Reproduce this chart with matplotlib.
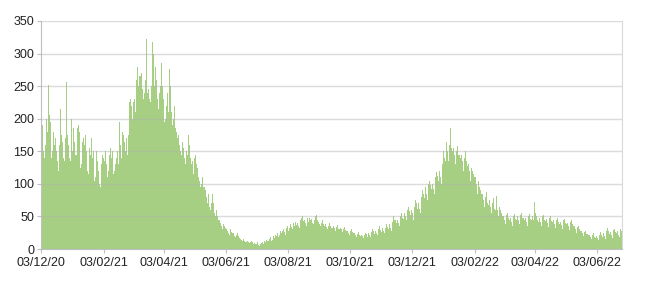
import numpy as np
import matplotlib
matplotlib.use("Agg")
import matplotlib.pyplot as plt
import matplotlib.dates as mdates
import datetime as dt

start_date = "2020-12-03"
daily_values = [
    215, 190, 150, 140, 160, 200, 180,
    251, 205, 195, 140, 150, 180, 160,
    170, 150, 135, 120, 160, 215, 175,
    165, 140, 135, 170, 256, 175, 160,
    140, 135, 200, 150, 185, 165, 145,
    185, 190, 180, 125, 130, 165, 170,
    160, 175, 150, 120, 115, 155, 145,
    170, 140, 150, 105, 110, 150, 135,
    120, 100, 95, 130, 145, 140, 135,
    150, 130, 110, 120, 145, 155, 140,
    150, 115, 120, 130, 140, 150, 130,
    195, 160, 140, 180, 175, 165, 150,
    170, 145, 175, 225, 230, 220, 200,
    225, 230, 210, 260, 280, 250, 265,
    270, 245, 230, 240, 260, 323, 240,
    245, 230, 225, 250, 318, 300, 250,
    280, 260, 230, 215, 240, 250, 285,
    250, 230, 195, 200, 220, 240, 210,
    277, 250, 210, 190, 200, 220, 185,
    180, 170, 175, 160, 150, 145, 165,
    155, 140, 130, 150, 145, 175, 160,
    140, 130, 135, 115, 140, 145, 130,
    125, 110, 105, 95, 100, 110, 95,
    90, 80, 70, 85, 65, 60, 70,
    85, 70, 55, 50, 60, 50, 45,
    45, 40, 35, 30, 38, 35, 32,
    30, 28, 25, 22, 30, 26, 24,
    25, 20, 18, 22, 24, 20, 17,
    15, 14, 12, 16, 13, 11, 10,
    12, 10, 9, 11, 13, 10, 8,
    9, 7, 8, 10, 6, 5, 8,
    9, 11, 8, 12, 10, 14, 13,
    15, 18, 12, 14, 20, 17, 22,
    20, 25, 18, 22, 27, 24, 28,
    30, 26, 22, 32, 35, 28, 33,
    38, 34, 30, 40, 36, 42, 37,
    40, 35, 32, 45, 48, 50, 43,
    45, 40, 36, 47, 42, 48, 44,
    46, 40, 38, 45, 50, 52, 44,
    42, 38, 35, 40, 44, 38, 36,
    38, 34, 30, 36, 40, 35, 33,
    35, 32, 28, 34, 37, 31, 30,
    33, 30, 26, 30, 34, 29, 28,
    28, 25, 22, 27, 30, 26, 24,
    25, 22, 18, 23, 26, 21, 20,
    22, 20, 17, 21, 25, 23, 19,
    24, 21, 19, 26, 30, 27, 23,
    28, 24, 21, 30, 35, 29, 26,
    32, 27, 24, 33, 38, 34, 30,
    38, 33, 28, 42, 50, 44, 40,
    45, 40, 35, 50, 55, 48, 46,
    55, 50, 45, 60, 65, 58, 52,
    60, 55, 45, 65, 75, 70, 62,
    70, 62, 55, 80, 90, 85, 78,
    95, 85, 75, 100, 105, 98, 92,
    100, 92, 85, 110, 118, 112, 105,
    120, 110, 100, 130, 150, 140, 135,
    165, 150, 135, 160, 185, 155, 150,
    155, 145, 130, 150, 158, 145, 140,
    145, 135, 120, 140, 150, 135, 128,
    130, 120, 105, 125, 120, 115, 110,
    110, 100, 85, 105, 95, 90, 85,
    85, 75, 65, 80, 88, 70, 68,
    75, 65, 55, 70, 78, 62, 60,
    82, 60, 50, 65, 60, 55, 50,
    50, 45, 38, 52, 55, 48, 45,
    48, 42, 36, 50, 54, 46, 44,
    50, 44, 38, 52, 55, 47, 45,
    48, 42, 36, 50, 53, 46, 44,
    50, 44, 72, 55, 50, 45, 42,
    48, 42, 36, 50, 52, 45, 43,
    46, 40, 34, 47, 50, 43, 41,
    44, 38, 32, 45, 47, 41, 39,
    42, 37, 31, 44, 46, 40, 38,
    40, 35, 29, 42, 45, 38, 36,
    35, 30, 25, 34, 36, 30, 28,
    28, 24, 20, 26, 28, 23, 22,
    22, 18, 15, 21, 24, 19, 17,
    20, 17, 14, 22, 26, 21, 19,
    24, 20, 16, 28, 32, 27, 23,
    26, 22, 17, 29, 31, 26, 24,
    27, 22, 18, 30, 28,
]
tick_dates = ["2020-12-03", "2021-02-03", "2021-04-03", "2021-06-03", "2021-08-03",
              "2021-10-03", "2021-12-03", "2022-02-03", "2022-04-03", "2022-06-03"]
tick_labels = ["03/12/20", "03/02/21", "03/04/21", "03/06/21", "03/08/21",
               "03/10/21", "03/12/21", "03/02/22", "03/04/22", "03/06/22"]
y_ticks = [0, 50, 100, 150, 200, 250, 300, 350]

dates = np.datetime64(start_date) + np.arange(len(daily_values))
dates = dates.astype("datetime64[D]").astype(dt.datetime)

plt.rcParams['font.family'] = ['Liberation Sans', 'DejaVu Sans']
fig = plt.figure(figsize=(6.5, 2.84), dpi=100)
ax = fig.add_axes([0.063, 0.1232, 0.894, 0.803])

ax.bar(dates, daily_values, width=1.0, color="#a6cf84", edgecolor="none",
       linewidth=0, align="edge", zorder=2)

ax.set_ylim(0, 350)
ax.set_yticks(y_ticks)
ax.set_xlim(mdates.date2num(dates[0]), mdates.date2num(dates[-1]) + 1)
tpos = [mdates.date2num(dt.datetime.fromisoformat(d)) for d in tick_dates]
ax.set_xticks(tpos)
ax.set_xticklabels(tick_labels)

ax.set_axisbelow(False)
ax.grid(axis="y", color="#b0b0b0", alpha=0.45, linewidth=1.0, zorder=3)
ax.spines["top"].set_visible(False)
ax.spines["right"].set_color("#d9d9d9")
ax.spines["left"].set_color("#bfbfbf")
ax.spines["bottom"].set_color("#bfbfbf")
ax.tick_params(axis="both", labelsize=9, colors="#bfbfbf", labelcolor="#222222",
               length=3, width=0.8)
ax.tick_params(axis="x", pad=3)
ax.tick_params(axis="y", pad=2)

fig.savefig("out.png", dpi=100)
